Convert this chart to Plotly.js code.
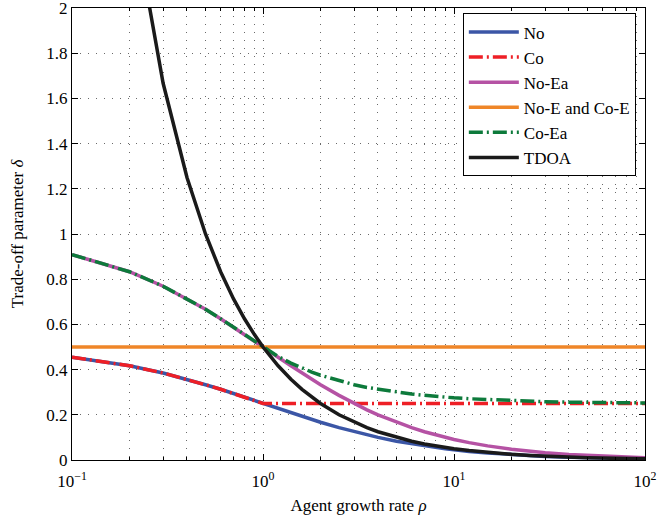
<!DOCTYPE html>
<html>
<head>
<meta charset="utf-8">
<script src="https://cdn.plot.ly/plotly-3.0.1.min.js"></script>
<style>
  html, body { margin: 0; padding: 0; background: #fff; }
  #chart { width: 658px; height: 515px; }
</style>
</head>
<body>
<div id="chart"></div>
<script>
// Agent growth rate (samples, finer between 1 and 3)
const rho = [0.1, 0.2, 0.3, 0.4, 0.5, 0.6, 0.7, 0.8, 0.9,
             1, 1.2, 1.4, 1.6, 1.8, 2, 2.5, 3, 3.5, 4, 5, 6, 7, 8, 9,
             10, 12, 15, 20, 25, 30, 40, 50, 60, 70, 80, 90, 100];

// Trade-off parameter for each scheme
const deltaNo = [0.455, 0.417, 0.385, 0.357, 0.333, 0.313, 0.294, 0.278, 0.263,
                 0.25, 0.227, 0.208, 0.192, 0.179, 0.167, 0.143, 0.125, 0.111, 0.1, 0.083, 0.071, 0.063, 0.056, 0.05,
                 0.045, 0.038, 0.031, 0.024, 0.019, 0.016, 0.012, 0.010, 0.008, 0.007, 0.006, 0.0055, 0.005];
const deltaCo = [0.455, 0.417, 0.385, 0.357, 0.333, 0.313, 0.294, 0.278, 0.263,
                 0.25, 0.25, 0.25, 0.25, 0.25, 0.25, 0.25, 0.25, 0.25, 0.25, 0.25, 0.25, 0.25, 0.25, 0.25,
                 0.25, 0.25, 0.25, 0.25, 0.25, 0.25, 0.25, 0.25, 0.25, 0.25, 0.25, 0.25, 0.25];
const deltaNoEa = [0.909, 0.833, 0.769, 0.714, 0.667, 0.625, 0.588, 0.556, 0.526,
                   0.5, 0.455, 0.417, 0.385, 0.357, 0.333, 0.286, 0.25, 0.222, 0.2, 0.167, 0.143, 0.125, 0.111, 0.1,
                   0.091, 0.077, 0.0625, 0.048, 0.038, 0.032, 0.024, 0.020, 0.016, 0.014, 0.012, 0.011, 0.010];
const deltaNoECoE = [0.5, 0.5, 0.5, 0.5, 0.5, 0.5, 0.5, 0.5, 0.5,
                     0.5, 0.5, 0.5, 0.5, 0.5, 0.5, 0.5, 0.5, 0.5, 0.5, 0.5, 0.5, 0.5, 0.5, 0.5,
                     0.5, 0.5, 0.5, 0.5, 0.5, 0.5, 0.5, 0.5, 0.5, 0.5, 0.5, 0.5, 0.5];
const deltaCoEa = [0.909, 0.833, 0.769, 0.714, 0.667, 0.625, 0.588, 0.556, 0.526,
                   0.5, 0.458, 0.429, 0.406, 0.389, 0.375, 0.35, 0.333, 0.321, 0.313, 0.3, 0.292, 0.286, 0.281, 0.278,
                   0.275, 0.271, 0.267, 0.263, 0.26, 0.258, 0.256, 0.255, 0.254, 0.254, 0.253, 0.253, 0.2525];
const deltaTDOA = [5.0, 2.5, 1.667, 1.25, 1.0, 0.833, 0.714, 0.625, 0.556,
                   0.5, 0.417, 0.357, 0.3125, 0.278, 0.25, 0.2, 0.167, 0.143, 0.125, 0.1, 0.083, 0.071, 0.0625, 0.056,
                   0.05, 0.042, 0.033, 0.025, 0.02, 0.0167, 0.0125, 0.01, 0.0083, 0.0071, 0.00625, 0.0056, 0.005];

const seriesNames = ['No', 'Co', 'No-Ea', 'No-E and Co-E', 'Co-Ea', 'TDOA'];

// Axis tick labels
const xTickVals = [0.1, 1, 10, 100];
const xTickText = ['10<sup>\u22121</sup>', '10<sup>0</sup>', '10<sup>1</sup>', '10<sup>2</sup>'];
const xMinorVals = [0.2, 0.3, 0.4, 0.5, 0.6, 0.7, 0.8, 0.9, 2, 3, 4, 5, 6, 7, 8, 9,
                    20, 30, 40, 50, 60, 70, 80, 90];
const yTickVals = [0, 0.2, 0.4, 0.6, 0.8, 1, 1.2, 1.4, 1.6, 1.8, 2];
const yTickText = ['0', '0.2', '0.4', '0.6', '0.8', '1', '1.2', '1.4', '1.6', '1.8', '2'];

const SERIF = 'Liberation Serif, Times New Roman, serif';
const dashDot = '14px,4px,2px,4px';

function line(y, name, color, width, dash) {
  return {
    x: rho, y: y, name: name, type: 'scatter', mode: 'lines',
    line: { color: color, width: width, dash: dash || 'solid' }
  };
}

const traces = [
  line(deltaNo,     seriesNames[0], '#3b56a6', 3.5),
  line(deltaCo,     seriesNames[1], '#ee1f26', 3.5, dashDot),
  line(deltaNoEa,   seriesNames[2], '#b552a4', 3.5),
  line(deltaNoECoE, seriesNames[3], '#ef8628', 3.5),
  line(deltaCoEa,   seriesNames[4], '#0d7a3b', 3.5, dashDot),
  line(deltaTDOA,   seriesNames[5], '#1a1a1a', 3.5)
];

const gridCol = '#6a6a6a';
const gridDash = '1px,7px';

const layout = {
  width: 658, height: 515,
  margin: { l: 72, r: 13, t: 8, b: 55 },
  paper_bgcolor: '#ffffff', plot_bgcolor: '#ffffff',
  font: { family: SERIF, size: 17, color: '#000' },
  showlegend: true,
  legend: {
    x: 0.984, y: 0.988, xanchor: 'right', yanchor: 'top',
    bgcolor: '#ffffff', bordercolor: '#000', borderwidth: 1,
    font: { family: SERIF, size: 17, color: '#000' },
    itemwidth: 50, tracegroupgap: 0
  },
  xaxis: {
    type: 'log', range: [-1, 2],
    tickvals: xTickVals, ticktext: xTickText,
    ticks: 'inside', ticklen: 6, tickcolor: '#000', tickwidth: 1,
    ticklabelstandoff: 6, ticklabeloverflow: 'allow',
    showline: true, linecolor: '#000', linewidth: 1, mirror: 'ticks',
    showgrid: true, gridcolor: gridCol, gridwidth: 1, griddash: gridDash,
    minor: {
      tickvals: xMinorVals,
      ticks: 'inside', ticklen: 3, tickcolor: '#000',
      showgrid: true, gridcolor: gridCol, gridwidth: 1, griddash: gridDash
    },
    zeroline: false,
    tickfont: { family: SERIF, size: 17, color: '#000' },
    title: { text: 'Agent growth rate <i>\u03c1</i>', font: { family: SERIF, size: 17, color: '#000' }, standoff: 8 }
  },
  yaxis: {
    range: [0, 2],
    tickvals: yTickVals, ticktext: yTickText,
    ticks: 'inside', ticklen: 6, tickcolor: '#000', tickwidth: 1,
    ticklabeloverflow: 'allow',
    showline: true, linecolor: '#000', linewidth: 1, mirror: 'ticks',
    showgrid: true, gridcolor: gridCol, gridwidth: 1, griddash: gridDash,
    zeroline: false,
    tickfont: { family: SERIF, size: 17, color: '#000' },
    title: { text: 'Trade-off parameter <i>\u03b4</i>', font: { family: SERIF, size: 17, color: '#000' }, standoff: 18 }
  }
};

Plotly.newPlot('chart', traces, layout, { displayModeBar: false, staticPlot: true });
</script>
</body>
</html>
